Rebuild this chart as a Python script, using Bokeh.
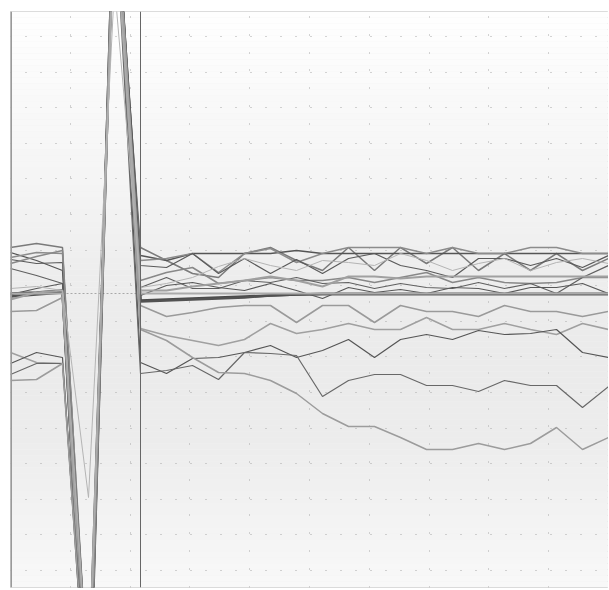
import numpy as np
from bokeh.plotting import figure
from bokeh.models import Range1d, Span, FixedTicker, ColumnDataSource
from bokeh.embed import file_html
from bokeh.resources import INLINE

steps = list(range(24))

# values of each series (baseline = 0)
s_a = [46, 50, 46, -407, 393, 46, 33, 20, 16, 40, 46, 33, 23, 46, 23, 46, 30, 46, 23, 40, 23, 40, 23, 35]
s_b = [41, 33, 23, -427, 413, 38, 33, 40, 40, 40, 40, 43, 40, 40, 40, 40, 40, 40, 40, 40, 40, 40, 40, 40]
s_c = [36, 41, 40, -397, 388, 33, 35, 40, 21, 40, 45, 31, 40, 46, 46, 46, 40, 46, 40, 40, 46, 46, 40, 40]
s_d = [34, 30, 31, -447, 423, 28, 26, 40, 20, 35, 20, 34, 20, 35, 40, 28, 23, 16, 35, 35, 28, 35, 26, 38]
s_e = [30, 37, 43, -417, 403, 13, 21, 26, 10, 13, 16, 13, 13, 16, 11, 16, 21, 11, 16, 11, 10, 11, 16, 16]
s_f = [25, 18, 10, -437, 398, 6, 16, 5, 5, 13, 11, 16, 10, 11, 5, 10, 6, 5, 11, 5, 10, 0, 16, 28]
s_g = [-1, 5, 10, -387, 408, -2, 8, 11, 6, 3, 10, 3, -5, 6, 1, 4, 0, 6, 5, 0, 6, 6, 10, 0]
s_h = [-6, 1, 3, -457, 418, 3, 3, 7, 10, 13, 17, 13, 7, 17, 17, 15, 17, 17, 17, 17, 17, 17, 17, 17]
s_i = [-18, -17, -4, -407, 393, -12, -23, -19, -14, -12, -12, -29, -12, -12, -29, -12, -18, -18, -23, -12, -18, -18, -23, -18]
s_j = [0, 0, 0, -397, 383, 0, 0, 0, 0, 0, 0, 0, 0, 0, 0, 0, 0, 0, 0, 0, 0, 0, 0, 0]
s_k = [-59, -69, -70, -427, 403, -35, -42, -47, -52, -46, -30, -40, -36, -30, -36, -36, -24, -36, -36, -30, -36, -41, -30, -36]
s_l = [-70, -59, -64, -447, 413, -69, -80, -65, -64, -59, -52, -64, -57, -46, -64, -46, -41, -46, -37, -41, -40, -36, -59, -64]
s_m = [-81, -70, -70, -417, 393, -80, -77, -72, -86, -59, -60, -62, -103, -87, -81, -81, -92, -92, -98, -87, -92, -92, -114, -93]
s_n = [-87, -86, -70, -437, 408, -36, -47, -64, -79, -80, -87, -100, -120, -133, -133, -144, -156, -156, -150, -156, -150, -134, -156, -144]
s_o = [0, 1, 3, -467, 423, -7, -6, -5, -4, -3, -2, -1, -0.5, -0.5, -0.5, -0.5, -0.5, -0.5, -0.5, -0.5, -0.5, -0.5, -0.5, -0.5]
s_p = [-3, -1, 1, -452, 418, -8, -7, -6, -5, -4, -2, -1, -0.5, -0.5, -0.5, -0.5, -0.5, -0.5, -0.5, -0.5, -0.5, -0.5, -0.5, -0.5]
s_q = [5, 7, 3, -204, 308, 6, 10, 16, 27, 35, 28, 23, 33, 31, 28, 40, 33, 23, 30, 35, 23, 31, 35, 30]

marker_step = 5
baseline = 0

Y0, Y1 = -294, 282
p = figure(width=608, height=588, output_backend="svg", toolbar_location=None,
           x_range=Range1d(0, 23), y_range=Range1d(Y0, Y1),
           x_axis_location=None, y_axis_location=None,
           min_border_left=10, min_border_right=0, min_border_top=11, min_border_bottom=1)
p.outline_line_color = "#d0d0d0"
p.background_fill_color = "#f2f2f2"
p.border_fill_color = "white"

# vertical gradient background
nb = 96
edges = np.linspace(Y1, Y0, nb + 1)
frac = (np.arange(nb) + 0.5) / nb
lvl = np.interp(frac, [0, 0.12, 0.3, 0.45, 0.6, 0.75, 0.88, 1.0],
                [255, 251, 245, 238, 235, 237, 243, 249])
cols = ["#%02x%02x%02x" % (int(v), int(v), int(v)) for v in lvl]
bg = ColumnDataSource(dict(top=edges[:-1], bottom=edges[1:], c=cols))
r = p.quad(left=0, right=23, top="top", bottom="bottom", fill_color="c", line_color=None, source=bg)
r.level = "image"

# grids
p.ygrid.ticker = FixedTicker(ticks=list(np.arange(257, Y0, -35.6)))
p.ygrid.grid_line_color = "#a8a8a8"
p.ygrid.grid_line_dash = "1 14"
p.xgrid.ticker = FixedTicker(ticks=list(np.linspace(0, 23, 11)))
p.xgrid.grid_line_color = "#a8a8a8"
p.xgrid.grid_line_dash = "1 17 1 17 1 17 1 17 1 16"

p.add_layout(Span(location=baseline, dimension="width", line_color="#a8a8a8",
                  line_dash="2 2", line_width=1, level="underlay"))
p.add_layout(Span(location=0, dimension="height", line_color="#9a9a9a", line_width=3))

series = [
    (s_o, "#4a4a4a", 2.5), (s_p, "#525252", 2.5),
    (s_a, "#7a7a7a", 1.5), (s_b, "#555555", 1.3), (s_c, "#8c8c8c", 1.5),
    (s_d, "#5a5a5a", 1.2), (s_e, "#888888", 1.5), (s_f, "#606060", 1.2),
    (s_g, "#585858", 1.2), (s_h, "#a0a0a0", 2), (s_i, "#9a9a9a", 1.5),
    (s_k, "#a0a0a0", 1.5), (s_l, "#555555", 1.2), (s_m, "#686868", 1.2),
    (s_n, "#9c9c9c", 1.5), (s_j, "#ababab", 2), (s_q, "#b4b4b4", 1),
]
for vals, c, w in series:
    p.line(steps, vals, line_color=c, line_width=w)

p.add_layout(Span(location=marker_step, dimension="height", line_color="#666666", line_width=1))

open("out.html", "w").write(file_html(p, INLINE))
